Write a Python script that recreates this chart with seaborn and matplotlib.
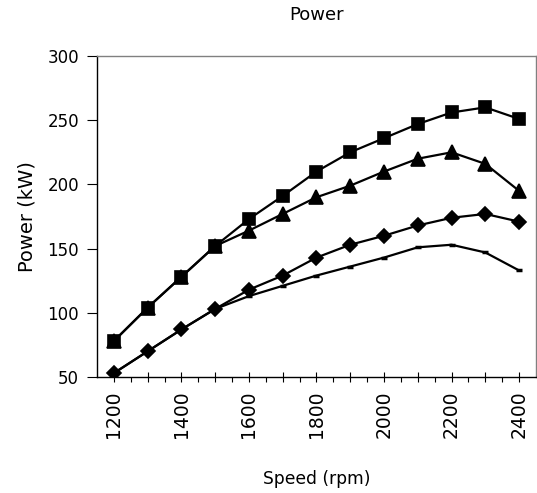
import numpy as np
import pandas as pd
import seaborn as sns
import matplotlib.pyplot as plt
from matplotlib.ticker import FixedLocator, FuncFormatter, MultipleLocator

speed = [1200, 1300, 1400, 1500, 1600, 1700, 1800, 1900, 2000, 2100, 2200, 2300, 2400]
power_square = [78, 104, 128, 152, 173, 191, 210, 225, 236, 247, 256, 260, 251]
power_triangle = [78, 104, 128, 152, 164, 177, 190, 199, 210, 220, 225, 216, 195]
power_diamond = [53, 70, 87, 103, 118, 129, 143, 153, 160, 168, 174, 177, 171]
power_dash = [53, 70, 87, 103, 113, 121, 129, 136, 143, 151, 153, 147, 133]

sns.set_theme(style="white")
plt.rcParams['font.family'] = ['DejaVu Sans']
plt.rcParams['text.color'] = 'black'
plt.rcParams['axes.labelcolor'] = 'black'
plt.rcParams['xtick.color'] = 'black'
plt.rcParams['ytick.color'] = 'black'

fig = plt.figure(figsize=(5.37, 4.93), dpi=100)
ax = fig.add_axes([0.1806, 0.2353, 0.8174, 0.6511])

series = [
    (power_square, "s", 9, 1.2),
    (power_triangle, "^", 9.5, 1.2),
    (power_diamond, "D", 7.5, 1.2),
    (power_dash, "_", 5, 2.5),
]
for vals, mk, ms, mew in series:
    sns.lineplot(x=speed, y=vals, ax=ax, color="black", linewidth=1.6,
                 marker=mk, markersize=ms, markeredgecolor="black",
                 markerfacecolor="black", markeredgewidth=mew)

ax.set_xlim(1150, 2450)
ax.set_ylim(50, 300)
ax.yaxis.set_major_locator(MultipleLocator(50))
ax.xaxis.set_major_locator(FixedLocator(speed))
ax.xaxis.set_major_formatter(FuncFormatter(lambda v, p: f"{int(v)}" if int(v) % 200 == 0 else ""))
ax.xaxis.set_minor_locator(FixedLocator(np.arange(1250, 2400, 100)))

ax.tick_params(axis="x", which="major", direction="inout", length=7.2, width=0.8,
               color="black", labelcolor="black", labelsize=13.5, labelrotation=90,
               pad=6, bottom=True)
ax.tick_params(axis="x", which="minor", direction="out", length=3.6, width=0.8,
               color="black", bottom=True)
ax.tick_params(axis="y", which="major", direction="out", length=7, width=0.8,
               color="black", labelcolor="black", labelsize=12, left=True, pad=6)

for s in ["left", "bottom"]:
    ax.spines[s].set_color("black")
    ax.spines[s].set_linewidth(1.0)
for s in ["top", "right"]:
    ax.spines[s].set_color("#808080")
    ax.spines[s].set_linewidth(1.0)

ax.set_title("Power", fontsize=13, pad=26, color="black")
ax.set_xlabel("Speed (rpm)", fontsize=12.3, labelpad=23, color="black")
ax.set_ylabel("Power (kW)", fontsize=14, labelpad=8, color="black")

fig.savefig("out.png", dpi=100)
